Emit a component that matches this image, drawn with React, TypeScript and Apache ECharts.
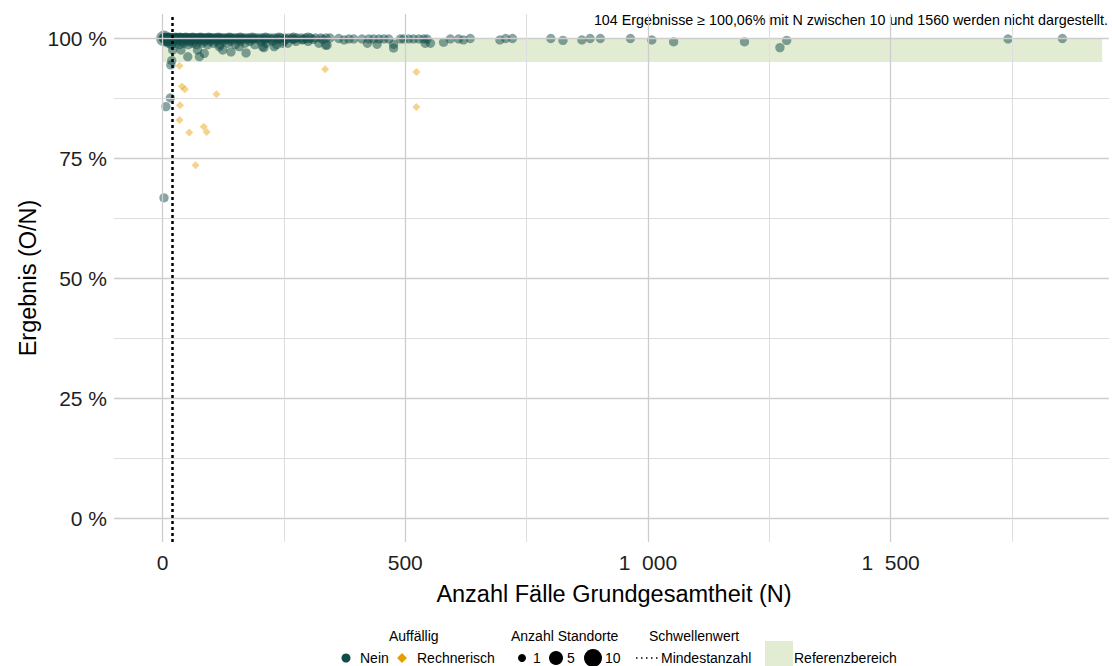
import React, { useEffect, useRef } from "react";
import * as echarts from "echarts";

// ---- axis / reference values ----
const xGridValues = [0, 250, 500, 750, 1000, 1250, 1500, 1750];
const yGridValues = [0, 12.5, 25, 37.5, 50, 62.5, 75, 87.5, 100];
const mindestanzahl = 20;
const referenzbereichPct = [95, 100];
const referenzbereichN = [0, 1936];
const annotation =
  "104 Ergebnisse \u2265 100,06% mit N zwischen 10 und 1560 werden nicht dargestellt.";

// ---- Auffällig: Nein (N values per result level in the dense cluster) ----
const neinRow100N = [1, 2, 4, 5, 7, 9, 10, 12, 13, 15, 17, 19, 21, 22, 24, 26, 28, 30, 31, 33, 35, 37, 39, 41, 43, 45, 47, 49, 51, 53, 56, 58, 60, 63, 65, 67, 70, 72, 75, 77, 80, 83, 85, 88, 91, 94, 97, 100, 103, 106, 110, 113, 117, 120, 124, 128, 132, 136, 140, 144, 149, 153, 158, 163, 168, 173, 178, 184, 190, 196, 202, 208, 215, 222, 229, 236, 244, 252, 260, 268, 277, 286, 295, 305, 315, 326, 337, 345];
const neinRow100TwoSitesN = [6, 14, 27, 36, 48, 62, 78, 95, 115, 138, 160, 185, 212, 240, 270, 300];
const neinRow997N = [3, 6, 11, 16, 20, 25, 29, 34, 38, 42, 46, 50, 55, 59, 64, 69, 74, 79, 84, 90, 96, 102, 108, 115, 122, 130, 138, 146, 155, 165, 175, 186, 198, 210, 224, 238, 254, 270, 290, 310, 330];
const neinRow993N = [8, 14, 23, 32, 40, 48, 57, 66, 76, 87, 98, 111, 125, 141, 160, 180, 203, 227, 250, 275, 300];
const neinRow989N = [12, 27, 44, 62, 82, 105, 134, 170, 213, 258];
const neinRow986N = [18, 35, 53, 70, 93, 118, 150, 190, 235];

const neinScattered: [number, number][] = [
  [21, 97.5], [38, 97.5], [52, 96.1], [76, 96.1], [86, 96.8], [72, 97.5],
  [117, 98.2], [124, 97.5], [141, 97.1], [172, 96.9], [158, 98.2], [206, 98.2],
  [230, 98.2], [247, 98.9], [288, 99.6], [209, 98.0], [322, 98.9], [336, 98.5], [339, 98.5],
];

const neinSparse: [number, number][] = [
  [363, 99.9], [374, 99.6], [384, 99.8], [394, 99.8], [411, 99.8], [422, 98.9],
  [425, 99.8], [435, 99.8], [442, 98.7], [446, 99.8], [456, 99.8], [466, 99.8],
  [476, 97.9], [476, 98.7], [490, 99.8], [497, 99.8], [507, 99.8], [517, 99.8],
  [528, 99.8], [538, 99.8], [541, 98.9], [552, 98.9], [545, 99.8], [579, 99.1],
  [593, 99.8], [610, 99.8], [620, 99.6], [634, 99.9], [695, 99.6], [707, 99.9],
  [721, 99.9], [800, 99.9], [825, 99.5], [864, 99.6], [881, 99.9], [902, 99.9],
  [964, 99.9], [1008, 99.6], [1053, 99.2], [1199, 99.2], [1272, 98.0], [1286, 99.5],
  [1742, 99.8], [1854, 99.9],
];

const neinLow: [number, number][] = [
  [3, 66.7], [7, 85.7], [16, 87.5], [17, 94.4], [19, 95.3],
];

// [N, Ergebnis %, Anzahl Standorte]
const neinMultiSite: [number, number, number][] = [
  [3, 99.9, 6], [10, 99.6, 3],
];

// ---- Auffällig: Rechnerisch ----
const rechnerisch: [number, number][] = [
  [35, 94.2], [40, 89.9], [46, 89.3], [111, 88.3], [36, 86.0], [35, 82.9],
  [55, 80.3], [85, 81.5], [91, 80.4], [68, 73.5], [335, 93.5], [523, 92.9], [523, 85.6],
];

const TEAL = "#0f4c4a";
const ORANGE = "#e69f00";
const FONT = "'Liberation Sans', Arial, Helvetica, sans-serif";
const TICK_COLOR = "#1e1e1e";

function sizeFor(standorte: number) {
  return 4.8 + 4.5 * Math.sqrt(standorte);
}

function fmtThousands(v: number) {
  if (v >= 1000) {
    return Math.floor(v / 1000) + "\u2007" + String(v % 1000).padStart(3, "0");
  }
  return String(v);
}

export default function App() {
  const ref = useRef<HTMLDivElement>(null);

  useEffect(() => {
    if (!ref.current) return;
    const chart = echarts.init(ref.current, undefined, { renderer: "svg" });

    const neinData: number[][] = [];
    neinRow100N.forEach((n) => neinData.push([n, 100, 1]));
    neinRow100TwoSitesN.forEach((n) => neinData.push([n, 100, 2]));
    neinRow997N.forEach((n) => neinData.push([n, 99.7, 1]));
    neinRow993N.forEach((n) => neinData.push([n, 99.3, 1]));
    neinRow989N.forEach((n) => neinData.push([n, 98.9, 1]));
    neinRow986N.forEach((n) => neinData.push([n, 98.6, 1]));
    neinScattered.forEach(([n, p]) => neinData.push([n, p, 1]));
    neinSparse.forEach(([n, p]) => neinData.push([n, p, 1]));
    neinLow.forEach(([n, p]) => neinData.push([n, p, 1]));
    neinMultiSite.forEach(([n, p, s]) => neinData.push([n, p, s]));

    const rechData = rechnerisch.map(([n, p]) => [n, p, 1]);

    const legendY1 = 636;
    const legendY2 = 658;
    const legendText = (text: string, x: number, y: number) => ({
      type: "text",
      x,
      y,
      style: { text, fill: "#000", font: `14px ${FONT}`, align: "left", verticalAlign: "middle" },
      silent: true,
    });

    chart.setOption({
      animation: false,
      backgroundColor: "#ffffff",
      textStyle: { fontFamily: FONT },
      grid: { left: 114, right: 0, top: 14, bottom: 124, containLabel: false },
      xAxis: {
        type: "value",
        min: -100,
        max: 1950,
        interval: 50,
        axisLine: { show: false, onZero: false },
        axisTick: { show: false },
        splitLine: { show: false },
        axisLabel: {
          interval: 0,
          margin: 10,
          fontSize: 21,
          color: TICK_COLOR,
          fontFamily: FONT,
          formatter: (v: number) => (v >= 0 && v % 500 === 0 ? fmtThousands(v) : ""),
        },
      },
      yAxis: {
        type: "value",
        min: -5,
        max: 105,
        interval: 2.5,
        axisLine: { show: false, onZero: false },
        axisTick: { show: false },
        splitLine: { show: false },
        axisLabel: {
          interval: 0,
          margin: 7,
          fontSize: 21,
          color: TICK_COLOR,
          fontFamily: FONT,
          formatter: (v: number) => (v >= 0 && v % 25 === 0 ? `${v} %` : ""),
        },
      },
      graphic: [
        {
          type: "text",
          x: 28,
          y: 278,
          rotation: Math.PI / 2,
          style: { text: "Ergebnis (O/N)", fill: "#000", font: `23.5px ${FONT}`, align: "center", verticalAlign: "middle" },
          silent: true,
        },
        {
          type: "text",
          x: 614,
          y: 594,
          style: { text: "Anzahl F\u00e4lle Grundgesamtheit (N)", fill: "#000", font: `23.5px ${FONT}`, align: "center", verticalAlign: "middle" },
          silent: true,
        },
        {
          type: "text",
          x: 1108,
          y: 20,
          style: { text: annotation, fill: "#000", font: `14.3px ${FONT}`, align: "right", verticalAlign: "middle" },
          silent: true,
        },
        // legend: Auffällig
        legendText("Auff\u00e4llig", 389, legendY1),
        { type: "circle", shape: { cx: 346, cy: legendY2, r: 4.5 }, style: { fill: TEAL }, silent: true },
        legendText("Nein", 360, legendY2),
        {
          type: "polygon",
          shape: { points: [[402, legendY2 - 5], [407, legendY2], [402, legendY2 + 5], [397, legendY2]] },
          style: { fill: ORANGE },
          silent: true,
        },
        legendText("Rechnerisch", 417, legendY2),
        // legend: Anzahl Standorte
        legendText("Anzahl Standorte", 511, legendY1),
        { type: "circle", shape: { cx: 522, cy: legendY2, r: 4 }, style: { fill: "#000" }, silent: true },
        legendText("1", 533, legendY2),
        { type: "circle", shape: { cx: 556, cy: legendY2, r: 7 }, style: { fill: "#000" }, silent: true },
        legendText("5", 567, legendY2),
        { type: "circle", shape: { cx: 593, cy: legendY2, r: 9 }, style: { fill: "#000" }, silent: true },
        legendText("10", 605, legendY2),
        // legend: Schwellenwert
        legendText("Schwellenwert", 649, legendY1),
        {
          type: "line",
          shape: { x1: 636, y1: legendY2, x2: 660, y2: legendY2 },
          style: { stroke: "#000", lineWidth: 1.5, lineDash: [1.5, 3.5] },
          silent: true,
        },
        legendText("Mindestanzahl", 661, legendY2),
        // legend: Referenzbereich
        { type: "rect", shape: { x: 765, y: 641, width: 28, height: 25 }, style: { fill: "#e2ecd3" }, silent: true },
        legendText("Referenzbereich", 794, legendY2),
      ],
      series: [
        {
          name: "grid",
          type: "scatter",
          data: [],
          silent: true,
          z: 1,
          markLine: {
            silent: true,
            symbol: "none",
            label: { show: false },
            lineStyle: { color: "#d4d4d4", width: 1, type: "solid" },
            data: [
              ...yGridValues.map((v) => ({ yAxis: v, lineStyle: { color: v % 25 === 0 ? "#cdcdcd" : "#dedede", width: v % 25 === 0 ? 1.3 : 1, type: "solid" } })),
              ...xGridValues.map((v) => ({ xAxis: v, lineStyle: { color: v % 500 === 0 ? "#cdcdcd" : "#dedede", width: v % 500 === 0 ? 1.3 : 1, type: "solid" } })),
            ],
          },
        },
        {
          name: "Referenzbereich",
          type: "scatter",
          data: [],
          silent: true,
          z: 2,
          markArea: {
            silent: true,
            itemStyle: { color: "rgba(158,192,105,0.3)" },
            data: [[
              { xAxis: referenzbereichN[0], yAxis: referenzbereichPct[0] },
              { xAxis: referenzbereichN[1], yAxis: referenzbereichPct[1] },
            ]],
          },
        },
        {
          name: "Rechnerisch",
          type: "scatter",
          z: 3,
          symbol: "diamond",
          symbolSize: 8,
          itemStyle: { color: ORANGE, opacity: 0.45 },
          data: rechData,
        },
        {
          name: "Nein",
          type: "scatter",
          z: 4,
          symbol: "circle",
          symbolSize: (val: number[]) => sizeFor(val[2]),
          itemStyle: { color: TEAL, opacity: 0.5 },
          data: neinData,
        },
        {
          name: "Mindestanzahl",
          type: "scatter",
          data: [],
          silent: true,
          z: 5,
          markLine: {
            silent: true,
            symbol: "none",
            label: { show: false },
            lineStyle: { color: "#000", width: 2.5, type: [3, 3] },
            data: [{ xAxis: mindestanzahl }],
          },
        },
      ],
    });

    return () => chart.dispose();
  }, []);

  return (
    <div
      ref={ref}
      style={{ position: "absolute", left: 0, top: 0, width: 1112, height: 666 }}
    />
  );
}
